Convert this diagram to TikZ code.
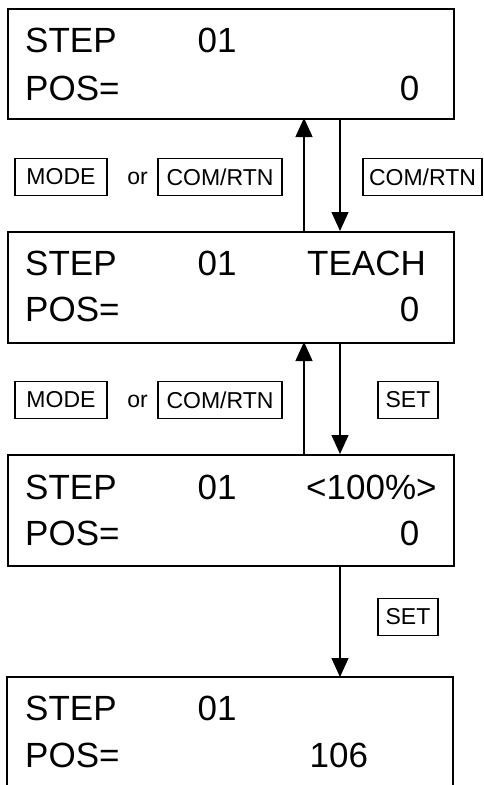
\documentclass[tikz,border=0pt]{standalone}
\usepackage{fontspec}
\setmainfont{Liberation Sans}
\usetikzlibrary{arrows.meta}
\begin{document}
\begin{tikzpicture}[x=1pt,y=-1pt,
  screen/.style={draw, line width=1.6pt, minimum width=446pt, minimum height=110pt, inner sep=0pt, anchor=north west},
  big/.style={font=\fontsize{35}{40}\selectfont, inner sep=0pt},
  keybox/.style={draw, line width=1.2pt, font=\fontsize{23}{26}\selectfont, minimum height=37pt, inner sep=0pt},
  small/.style={font=\fontsize{23}{26}\selectfont, inner sep=0pt},
  conn/.style={line width=1.3pt, -{Triangle[width=17pt,length=19pt]}}]
\useasboundingbox (0,0) rectangle (483,785);

% screens
\node[screen, minimum height=110pt] (s1) at (7,8) {};
\node[screen, minimum height=111pt] (s2) at (7,231) {};
\node[screen, minimum height=111pt] (s3) at (7,454) {};
\coordinate (s4nw) at (7,677);
\coordinate (s4ne) at (453,677);
\coordinate (s4top) at (340,677);
\draw[line width=1.6pt] (7,785) -- (s4nw) -- (s4ne) -- (453,785);

% screen 1 text
\node[big, anchor=base west] (t1a) at (25,52) {STEP};
\node[big, anchor=base west] (t1b) at (197.5,52) {01};
\node[big, anchor=base west] (t1c) at (25,100) {POS=};
\node[big, anchor=base east] (t1d) at (419.5,100) {0};

% screen 2 text
\node[big, anchor=base west] (t2a) at (25,275) {STEP};
\node[big, anchor=base west] (t2b) at (197.5,275) {01};
\node[big, anchor=base west] (t2e) at (307,275) {TEACH};
\node[big, anchor=base west] (t2c) at (25,321) {POS=};
\node[big, anchor=base east] (t2d) at (419.5,321) {0};

% screen 3 text
\node[big, anchor=base west] (t3a) at (25,499) {STEP};
\node[big, anchor=base west] (t3b) at (197.5,499) {01};
\node[big, anchor=base west] (t3e) at (306,499) {<100\%>};
\node[big, anchor=base west] (t3c) at (25,545) {POS=};
\node[big, anchor=base east] (t3d) at (419.5,545) {0};

% screen 4 text
\node[big, anchor=base west] (t4a) at (25,720) {STEP};
\node[big, anchor=base west] (t4b) at (197.5,720) {01};
\node[big, anchor=base west] (t4c) at (25,767) {POS=};
\node[big, anchor=base west] (t4d) at (309.5,767) {106};

% connectors
\coordinate (u1a) at (304,231);
\coordinate (u1b) at (304,118);
\coordinate (d1a) at (340,118);
\coordinate (d1b) at (340,231);
\draw[conn] (u1a) -- (u1b);
\draw[conn] (d1a) -- (d1b);
\coordinate (u2a) at (304,454);
\coordinate (u2b) at (304,342);
\coordinate (d2a) at (340,342);
\coordinate (d2b) at (340,454);
\draw[conn] (u2a) -- (u2b);
\draw[conn] (d2a) -- (d2b);
\coordinate (d3a) at (340,565);
\draw[conn] (d3a) -- (s4top);

% key labels row 1
\node[keybox, minimum width=92pt] (k1) at (61,177) {MODE};
\node[small] (or1) at (137.5,178) {or};
\node[keybox, minimum width=124pt] (k2) at (220,177) {COM/RTN};
\node[keybox, minimum width=119pt] (k3) at (422.5,177) {COM/RTN};

% key labels row 2
\node[keybox, minimum width=92pt] (k4) at (61,400) {MODE};
\node[small] (or2) at (137.5,401) {or};
\node[keybox, minimum width=124pt] (k5) at (220,400) {COM/RTN};
\node[keybox, minimum width=60pt] (k6) at (408,400) {SET};

% key label row 3
\node[keybox, minimum width=60pt] (k7) at (408,617) {SET};
\end{tikzpicture}
\end{document}
